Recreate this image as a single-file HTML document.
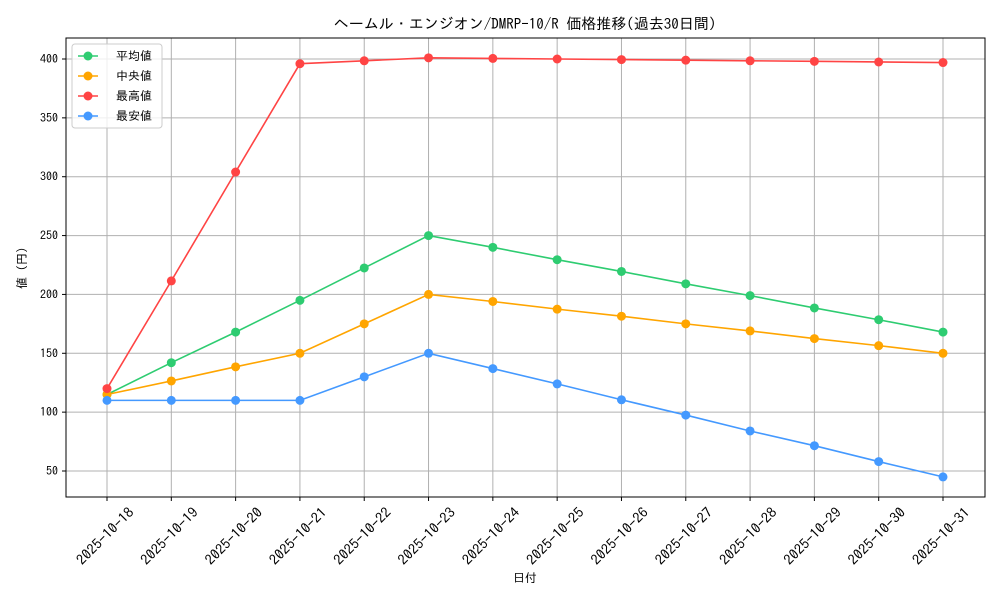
<!DOCTYPE html>
<html><head><meta charset="utf-8"><style>
body{margin:0;background:#fff;}
svg{font-family:"IPAGothic","Noto Sans CJK JP",monospace;}
</style></head><body>
<svg id="chart" width="1000" height="600" xmlns="http://www.w3.org/2000/svg">
<rect width="1000" height="600" fill="#fff"/>
<text x="525" y="29" font-size="15" text-anchor="middle" fill="#000">ヘームル・エンジオン/DMRP-10/R 価格推移(過去30日間)</text>
<text x="525" y="582" font-size="12" text-anchor="middle">日付</text>
<text x="26" y="268" font-size="12" text-anchor="middle" transform="rotate(-90 26 268)">値 (円)</text>
<g id="grid"></g><g id="ticks"></g><g id="series"></g>
<rect x="66" y="38" width="919" height="459" fill="none" stroke="#000" stroke-width="1"/>
<g id="legend"></g>
</svg>
<script>
const categories=["2025-10-18","2025-10-19","2025-10-20","2025-10-21","2025-10-22","2025-10-23","2025-10-24","2025-10-25","2025-10-26","2025-10-27","2025-10-28","2025-10-29","2025-10-30","2025-10-31"];
const avgValues=[115,142,168,195,222.5,250,240,229.5,219.5,209,199,188.5,178.5,168];
const medianValues=[115,126.5,138.5,150,175,200,194,187.5,181.5,175,169,162.5,156.5,150];
const maxValues=[120,211.5,304,396,398.5,401,400.5,400,399.5,399,398.5,398,397.5,397];
const minValues=[110,110,110,110,130,150,137,124,110.5,97.5,84,71.5,58,45];
const yTicks=[50,100,150,200,250,300,350,400];
const seriesNames=["平均値","中央値","最高値","最安値"];
const NS="http://www.w3.org/2000/svg";
function X(i){return 107+i*(943-107)/13;}
function Y(v){return 59+(400-v)*(471-59)/350;}
function mk(t,a,p){const e=document.createElementNS(NS,t);for(const k in a)e.setAttribute(k,a[k]);p.appendChild(e);return e;}
const grid=document.getElementById('grid'),ticks=document.getElementById('ticks'),ser=document.getElementById('series'),leg=document.getElementById('legend');
yTicks.forEach(v=>{
 const l=mk('line',{x1:66,x2:985,y1:Y(v),y2:Y(v),stroke:'#b0b0b0','stroke-width':1},grid);
 
 
 mk('line',{x1:62,x2:66,y1:Y(v),y2:Y(v),stroke:'#000'},ticks);
 const t=mk('text',{x:58,y:Y(v)+4,'font-size':12,'text-anchor':'end'},ticks);t.textContent=v;
 
 
});
categories.forEach((c,i)=>{
 const l=mk('line',{x1:X(i),x2:X(i),y1:38,y2:497,stroke:'#b0b0b0','stroke-width':1},grid);
 
 
 mk('line',{x1:X(i),x2:X(i),y1:497,y2:501,stroke:'#000'},ticks);
 const cx=X(i)-2, cy=541;
 const t=mk('text',{x:cx,y:cy,'font-size':14,'text-anchor':'middle',textLength:74,lengthAdjust:'spacingAndGlyphs',transform:`rotate(-45 ${cx} ${cy-5})`},ticks);t.textContent=c;
 
 
});
const all=[[avgValues,'#2ecc71'],[medianValues,'#ffa500'],[maxValues,'#ff4444'],[minValues,'#4499ff']];
all.forEach(([vals,col],s)=>{
 const g=mk('g',{},ser);
 
 
 const p=mk('polyline',{points:vals.map((v,i)=>X(i)+','+Y(v)).join(' '),fill:'none',stroke:col,'stroke-width':1.6},g);
 
 
 vals.forEach((v,i)=>{const c=mk('circle',{cx:X(i),cy:Y(v),r:4.5,fill:col},g);
  
  });
 const ly=56+s*20;
 mk('line',{x1:78,x2:98,y1:ly,y2:ly,stroke:col,'stroke-width':1.6},leg);
 mk('circle',{cx:88,cy:ly,r:4.5,fill:col},leg);
 const t=mk('text',{x:116,y:ly+4,'font-size':12},leg);t.textContent=seriesNames[s];
 
 
});
const fr=mk('rect',{x:72,y:44,width:90,height:84,rx:3,fill:'#fff','fill-opacity':0.8,stroke:'#ccc'},leg);
leg.insertBefore(fr,leg.firstChild);
</script>
</body></html>
